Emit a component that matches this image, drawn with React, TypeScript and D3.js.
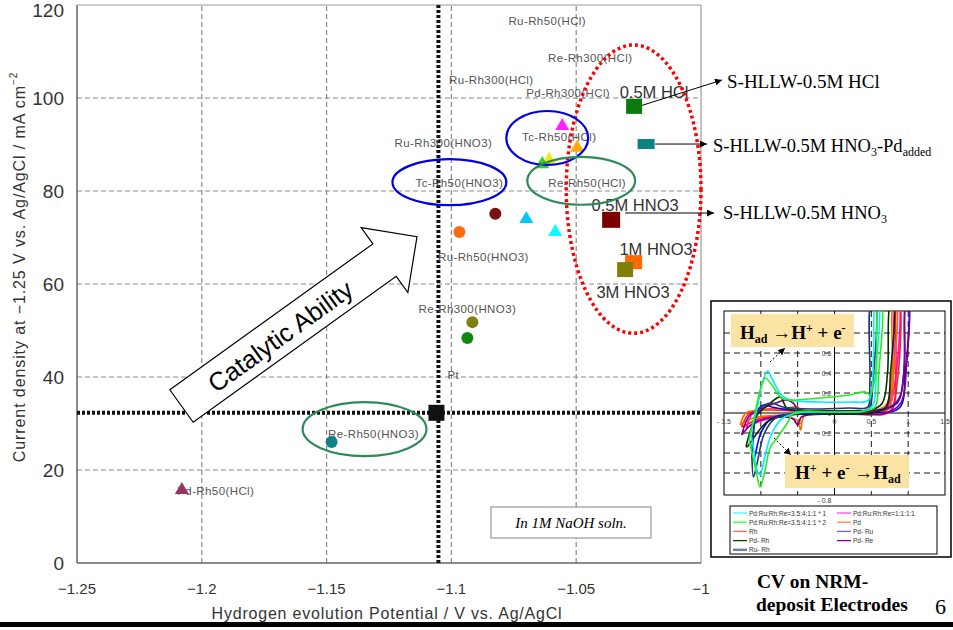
import React from 'react';
import * as d3 from 'd3';

// ---------- main chart data ----------
const xTicks = [-1.25, -1.2, -1.15, -1.1, -1.05, -1];
const xTickLabels = ['−1.25', '−1.2', '−1.15', '−1.1', '−1.05', '−1'];
const yTicks = [0, 20, 40, 60, 80, 100, 120];
const yGrid = [20, 40, 60, 80, 100];
const xGrid = [-1.2, -1.15, -1.1, -1.05];

const markerNames = [
  'S-HLLW-0.5M HCl', 'S-HLLW-0.5M HNO3-Pd', 'S-HLLW-0.5M HNO3', 'S-HLLW-1M HNO3', 'S-HLLW-3M HNO3',
  'Pd-Rh300(HCl)', 'Tc-Rh50(HCl)', 'Ru-Rh300(HCl)', 'Ru-Rh50(HCl)', 'Tc-Rh50(HNO3)', 'Re-Rh50(HCl)',
  'Re-Rh300(HCl)', 'Ru-Rh50(HNO3)', 'Re-Rh300(HNO3)', 'Ru-Rh300(HNO3)', 'Pt', 'Re-Rh50(HNO3)', 'Pd-Rh50(HCl)',
];
const markerPotential = [
  -1.0268, -1.022, -1.036, -1.027, -1.0304,
  -1.0556, -1.0496, -1.0608, -1.0636, -1.07, -1.0584,
  -1.0824, -1.0968, -1.0916, -1.0936, -1.106, -1.148, -1.208,
];
const markerCurrent = [
  98.2, 90.1, 73.8, 64.7, 63.1,
  94.2, 89.5, 86.9, 86.0, 74.2, 71.4,
  75.1, 71.2, 51.8, 48.4, 32.3, 26.0, 15.9,
];
const markerShape = [
  'sq', 'sq', 'sq', 'sq', 'sq',
  'tri', 'tri', 'tri', 'tri', 'tri', 'tri',
  'cir', 'cir', 'cir', 'cir', 'sq', 'cir', 'tri',
];
const markerColor = [
  '#0a7a0a', '#0b8383', '#7a0000', '#ff6a00', '#7f7f0a',
  '#ff22ff', '#ffaa00', '#e8ee10', '#33cc33', '#00c8ff', '#00ffff',
  '#7a1010', '#ff6a10', '#808010', '#118811', '#111111', '#0b8383', '#993366',
];
const markerW = [16, 17, 18, 17, 16, 13, 13, 13, 13, 13, 13, 12, 12, 12, 12, 16, 12, 13];
const markerH = [15, 10, 16, 14, 15, 12, 12, 12, 12, 12, 12, 12, 12, 12, 12, 16, 12, 12];

const smallLabels = [
  'Ru-Rh50(HCl)', 'Re-Rh300(HCl)', 'Ru-Rh300(HCl)', 'Pd-Rh300(HCl)', 'Tc-Rh50(HCl)', 'Ru-Rh300(HNO3)',
  'Tc-Rh50(HNO3)', 'Re-Rh50(HCl)', 'Ru-Rh50(HNO3)', 'Re-Rh300(HNO3)', 'Pt', 'Re-Rh50(HNO3)', 'Pd-Rh50(HCl)',
];
const smallLabelX = [-1.0616, -1.0444, -1.084, -1.0532, -1.0568, -1.1032, -1.0968, -1.0456, -1.0872, -1.0936, -1.0992, -1.1312, -1.1944];
const smallLabelY = [116.6, 108.6, 103.9, 101.1, 91.6, 90.3, 81.7, 81.7, 65.8, 54.6, 40.4, 27.7, 15.5];

const bigLabels = ['0.5M HCl', '0.5M HNO3', '1M HNO3', '3M HNO3'];
const bigLabelX = [-1.0188, -1.0264, -1.018, -1.0272];
const bigLabelY = [101.3, 77.0, 67.5, 58.3];

// ellipse annotations: centre (V, mA/cm2), radii (V, mA/cm2)
const ellCx = [-1.027, -1.0616, -1.1008, -1.048, -1.1348];
const ellCy = [80.4, 91.4, 81.9, 82.2, 28.8];
const ellRx = [0.027, 0.0164, 0.0228, 0.0216, 0.0248];
const ellRy = [31.0, 5.8, 4.95, 5.16, 5.8];
const ellKind = ['red', 'blue', 'blue', 'green', 'green'];

const ptPotential = -1.1052;
const ptCurrent = 32.3;

// ---------- inset CV data (V, mA) ----------
const cvCyan = [[-1.14,-0.2],[-1.05,0.05],[-0.98,0.3],[-0.91,0.42],[-0.84,0.33],[-0.72,0.18],[-0.6,0.13],[-0.2,0.11],[0.2,0.11],[0.45,0.12],[0.5,0.2],[0.53,0.6],[0.56,1.1],[0.6,1.1],[0.57,0.5],[0.52,0.08],[0.4,0.02],[0,0.01],[-0.5,0.0],[-0.7,-0.05],[-0.85,-0.2],[-0.95,-0.45],[-1.01,-0.62],[-1.06,-0.55],[-1.1,-0.35],[-1.14,-0.2]];
const cvLime = [[-1.16,-0.27],[-1.08,0.0],[-1.0,0.25],[-0.94,0.35],[-0.85,0.28],[-0.72,0.15],[-0.6,0.13],[-0.2,0.15],[0.2,0.18],[0.42,0.21],[0.48,0.18],[0.56,0.4],[0.6,1.1],[0.64,1.1],[0.6,0.4],[0.55,0.06],[0.4,0.02],[0,0.01],[-0.55,0.0],[-0.64,-0.1],[-0.78,-0.25],[-0.87,-0.34],[-0.95,-0.6],[-1.01,-0.74],[-1.06,-0.6],[-1.12,-0.4],[-1.16,-0.27]];
const cvRuRh = [[-1.12,-0.45],[-1.05,0.0],[-0.95,0.08],[-0.85,0.1],[-0.7,0.06],[-0.3,0.04],[0.2,0.05],[0.45,0.06],[0.48,0.3],[0.5,1.1],[0.55,1.1],[0.52,0.3],[0.47,0.05],[0.3,0.01],[-0.5,0.0],[-0.8,-0.05],[-0.95,-0.2],[-1.05,-0.5],[-1.1,-0.64],[-1.12,-0.45]];
const cvPdRh = [[-1.2,-0.33],[-1.05,-0.02],[-0.9,0.08],[-0.78,0.15],[-0.73,0.16],[-0.65,0.05],[-0.55,0.03],[0,0.02],[0.5,0.03],[0.65,0.1],[0.72,0.4],[0.76,1.1],[0.8,1.1],[0.76,0.4],[0.7,0.06],[0.5,0.0],[0,-0.01],[-0.6,-0.02],[-0.9,-0.08],[-1.1,-0.25],[-1.19,-0.34],[-1.2,-0.33]];
const cvPdRe = [[-1.26,-0.22],[-1.15,-0.02],[-1.0,0.04],[-0.8,0.1],[-0.66,0.13],[-0.56,0.1],[-0.5,0.04],[-0.3,0.02],[0.3,0.02],[0.7,0.04],[0.88,0.15],[0.95,0.5],[0.97,1.1],[1.0,1.1],[0.98,0.5],[0.9,0.1],[0.7,0.0],[0,-0.01],[-0.45,-0.04],[-0.5,-0.12],[-0.56,-0.06],[-0.8,-0.04],[-1.1,-0.1],[-1.26,-0.22]];
const cvPd = [[-1.28,-0.12],[-1.2,0.0],[-1.0,0.03],[-0.7,0.04],[-0.5,0.06],[-0.46,0.02],[0,0.01],[0.5,0.02],[0.7,0.08],[0.78,0.4],[0.8,1.1],[0.84,1.1],[0.8,0.4],[0.72,0.03],[0.4,-0.01],[-0.4,-0.02],[-0.46,-0.17],[-0.5,-0.08],[-0.7,-0.03],[-1.1,-0.05],[-1.28,-0.12]];
const cvPdRu = [[-1.12,-0.45],[-1.05,0.02],[-0.96,0.08],[-0.85,0.06],[-0.6,0.03],[0,0.02],[0.6,0.03],[0.85,0.1],[0.94,0.4],[0.97,1.1],[1.0,1.1],[0.96,0.4],[0.88,0.05],[0.5,0.0],[-0.5,-0.01],[-0.85,-0.05],[-1.0,-0.2],[-1.1,-0.47],[-1.12,-0.45]];
const cvRh = [[-1.26,-0.14],[-1.15,0.0],[-0.9,0.03],[-0.5,0.02],[0.3,0.01],[0.7,0.03],[0.82,0.3],[0.85,1.1],[0.88,1.1],[0.85,0.3],[0.75,0.01],[0.3,-0.01],[-0.5,-0.01],[-1.0,-0.05],[-1.2,-0.12],[-1.26,-0.14]];
const cvEq = [[-1.2,-0.15],[-1.1,0.0],[-0.9,0.04],[-0.5,0.02],[0.3,0.02],[0.7,0.05],[0.8,0.4],[0.83,1.1],[0.87,1.1],[0.84,0.4],[0.75,0.02],[0.3,0.0],[-0.5,-0.01],[-1.0,-0.08],[-1.2,-0.15]];

const cvCurves = [cvEq, cvRh, cvPd, cvPdRu, cvPdRe, cvPdRh, cvRuRh, cvCyan, cvLime];
const cvColors = ['#ff00ff', '#ff2020', '#ff6600', '#0000ff', '#800080', '#003300', '#1f3a6e', '#00eeff', '#22ee22'];

const legendNames = ['Pd:Ru:Rh:Re=3.5:4:1:1 * 1', 'Pd:Ru:Rh:Re=3.5:4:1:1 * 2', 'Rh', 'Pd- Rh', 'Ru- Rh', 'Pd:Ru:Rh:Re=1:1:1:1', 'Pd', 'Pd- Ru', 'Pd- Re'];
const legendColors = ['#33ffff', '#33ff33', '#ff6666', '#004400', '#7080a0', '#ff44ff', '#ff8833', '#6666ff', '#880088'];

const insetXTicks = [-1.5, -0.5, 0, 0.5, 1, 1.5];
const insetXTickLabels = ['- 1.5', '-.5', '0', '0.5', '1', '1.5'];
const insetYTicks = [0.6, 0.4, 0.2, 0, -0.2, -0.8];
const insetYTickLabels = ['0.6', '0.4', '0.2', '0', '- 0.2', '- 0.8'];
const insetXGrid = [-1, -0.5, 0.5, 1];
const insetYGrid = [0.8, 0.6, 0.4, 0.2, -0.2, -0.4, -0.6];

export default function App() {
  const W = 953, H = 630;
  const x = d3.scaleLinear().domain([-1.25, -1.0]).range([77, 701]);
  const y = d3.scaleLinear().domain([0, 120]).range([563, 5]);
  const pxV = (v: number) => Math.abs(x(v) - x(0));
  const pxI = (v: number) => Math.abs(y(v) - y(0));

  const xi = d3.scaleLinear().domain([-1.5, 1.5]).range([724, 945]);
  const yi = d3.scaleLinear().domain([-0.8, 1.0]).range([493, 313]);
  const cvLine = d3.line<number[]>().x(d => xi(d[0])).y(d => yi(d[1])).curve(d3.curveCatmullRom.alpha(0.5));

  const sans = 'Liberation Sans, Arial, sans-serif';
  const serif = 'Liberation Serif, Times New Roman, serif';
  const ellColor: Record<string, string> = { red: '#ff0000', blue: '#0000e6', green: '#2e8b57' };

  const tri = d3.symbol().type(d3.symbolTriangle);

  return (
    <svg width={W} height={H} style={{ position: 'absolute', left: 0, top: 0, background: '#fff' }} xmlns="http://www.w3.org/2000/svg">
      <defs>
        <marker id="ah" viewBox="0 0 10 10" refX="10" refY="5" markerWidth="7" markerHeight="7" orient="auto">
          <path d="M0,0 L10,5 L0,10 z" fill="#000" />
        </marker>
        <clipPath id="inclip"><rect x={724} y={yi(1.02)} width={221} height={yi(-0.82) - yi(1.02)} /></clipPath>
      </defs>
      <rect x={0} y={0} width={W} height={H} fill="#fff" />

      {/* grid */}
      {yGrid.map(v => <line key={'yg' + v} x1={x(-1.25)} x2={x(-1)} y1={y(v)} y2={y(v)} stroke="#8c8c8c" strokeWidth={1.2} strokeDasharray="5,3" />)}
      {xGrid.map(v => <line key={'xg' + v} x1={x(v)} x2={x(v)} y1={y(0)} y2={y(120)} stroke="#8c8c8c" strokeWidth={1.2} strokeDasharray="5,3" />)}

      {/* frame */}
      <line x1={x(-1.25)} x2={x(-1)} y1={y(120)} y2={y(120)} stroke="#999" strokeWidth={1.2} />
      <line x1={x(-1)} x2={x(-1)} y1={y(120)} y2={y(0)} stroke="#999" strokeWidth={1.2} />
      <line x1={x(-1.25)} x2={x(-1.25)} y1={y(120)} y2={y(0)} stroke="#666" strokeWidth={1.5} />
      <line x1={x(-1.25)} x2={x(-1)} y1={y(0)} y2={y(0)} stroke="#666" strokeWidth={1.5} />

      {/* Pt reference dotted lines */}
      <line x1={x(ptPotential)} x2={x(ptPotential)} y1={y(0)} y2={y(120)} stroke="#111" strokeWidth={4} strokeDasharray="3,2" />
      <line x1={x(-1.25)} x2={x(-1)} y1={y(ptCurrent)} y2={y(ptCurrent)} stroke="#111" strokeWidth={4} strokeDasharray="3,2" />

      {/* tick labels */}
      {yTicks.map(v => <text key={'yt' + v} x={64} y={Math.max(y(v), 10)} textAnchor="end" dominantBaseline="central" fontFamily={sans} fontSize={19} fill="#333">{v}</text>)}
      {xTicks.map((v, i) => <text key={'xt' + v} x={x(v)} y={588} textAnchor="middle" dominantBaseline="central" fontFamily={sans} fontSize={15} fill="#333">{xTickLabels[i]}</text>)}

      {/* axis titles */}
      <text x={387} y={613} textAnchor="middle" dominantBaseline="central" fontFamily={sans} fontSize={16} letterSpacing={0.8} fill="#333">Hydrogen evolution Potential / V vs. Ag/AgCl</text>
      <text transform="translate(19,267) rotate(-90)" textAnchor="middle" dominantBaseline="central" fontFamily={sans} fontSize={16} letterSpacing={0.9} fill="#333">
        Current density at −1.25 V vs. Ag/AgCl / mA cm<tspan dy={-6} fontSize={10}>−2</tspan>
      </text>

      {/* Catalytic ability arrow */}
      <g transform="translate(181.5,406) rotate(-35.7)">
        <polygon points="0,-20 250,-20 250,-40 290,0 250,40 250,20 0,20" fill="#fff" stroke="#000" strokeWidth={1.2} />
        <text x={121} y={1} textAnchor="middle" dominantBaseline="central" fontFamily={sans} fontSize={25.5} fill="#000">Catalytic Ability</text>
      </g>

      {/* small data labels */}
      {smallLabels.map((t, i) => <text key={'sl' + i} x={x(smallLabelX[i])} y={y(smallLabelY[i])} textAnchor="middle" dominantBaseline="central" fontFamily={sans} fontSize={11.5} letterSpacing={0.4} fill="#555">{t}</text>)}

      {/* markers */}
      {markerNames.map((n, i) => {
        const cx = x(markerPotential[i]), cy = y(markerCurrent[i]);
        const c = markerColor[i];
        if (markerShape[i] === 'sq') return <rect key={'m' + i} x={cx - markerW[i] / 2} y={cy - markerH[i] / 2} width={markerW[i]} height={markerH[i]} fill={c} />;
        if (markerShape[i] === 'cir') return <circle key={'m' + i} cx={cx} cy={cy} r={markerW[i] / 2} fill={c} />;
        return <path key={'m' + i} transform={`translate(${cx},${cy + 1})`} d={tri.size(markerW[i] * markerW[i] * 0.5)() || ''} fill={c} />;
      })}

      {/* big labels */}
      {bigLabels.map((t, i) => <text key={'bl' + i} x={x(bigLabelX[i])} y={y(bigLabelY[i])} textAnchor="middle" dominantBaseline="central" fontFamily={sans} fontSize={16.5} fill="#333">{t}</text>)}

      {/* ellipses */}
      {ellCx.map((v, i) => (
        <ellipse key={'el' + i} cx={x(v)} cy={y(ellCy[i])} rx={pxV(ellRx[i])} ry={pxI(ellRy[i])} fill="none"
          stroke={ellColor[ellKind[i]]} strokeWidth={ellKind[i] === 'red' ? 3.5 : 2.2}
          strokeDasharray={ellKind[i] === 'red' ? '3,3' : undefined} />
      ))}

      {/* right annotation arrows */}
      <line x1={x(markerPotential[0]) + 8} y1={y(markerCurrent[0]) - 1} x2={722} y2={80} stroke="#000" strokeWidth={1} markerEnd="url(#ah)" />
      <line x1={x(markerPotential[1]) + 9} y1={y(markerCurrent[1])} x2={707} y2={y(markerCurrent[1])} stroke="#000" strokeWidth={1} markerEnd="url(#ah)" />
      <line x1={x(markerPotential[2]) + 14} y1={213} x2={714} y2={213} stroke="#000" strokeWidth={1} markerEnd="url(#ah)" />
      <text x={727} y={88} fontFamily={serif} fontSize={19} fill="#000">S-HLLW-0.5M HCl</text>
      <text x={713} y={152} fontFamily={serif} fontSize={18.5} fill="#000">S-HLLW-0.5M HNO<tspan dy={4} fontSize={12}>3</tspan><tspan dy={-4}>-Pd</tspan><tspan dy={4} fontSize={12}>added</tspan></text>
      <text x={723} y={219} fontFamily={serif} fontSize={18.5} fill="#000">S-HLLW-0.5M HNO<tspan dy={4} fontSize={12}>3</tspan></text>

      {/* NaOH box */}
      <rect x={491} y={507} width={160} height={31} fill="#fff" stroke="#888" strokeWidth={1} />
      <text x={571} y={523} textAnchor="middle" dominantBaseline="central" fontFamily={serif} fontStyle="italic" fontSize={15} fill="#000">In 1M NaOH soln.</text>

      {/* ---------- inset ---------- */}
      <rect x={711} y={301} width={240} height={256} fill="#fff" stroke="#000" strokeWidth={1.5} />
      <rect x={724} y={yi(1.02)} width={221} height={yi(-0.82) - yi(1.02)} fill="#fff" stroke="#000" strokeWidth={1} />
      {insetYGrid.map(v => <line key={'iyg' + v} x1={724} x2={945} y1={yi(v)} y2={yi(v)} stroke="#000" strokeWidth={0.9} strokeDasharray="6,4" />)}
      {insetXGrid.map(v => <line key={'ixg' + v} x1={xi(v)} x2={xi(v)} y1={yi(1.02)} y2={yi(-0.82)} stroke="#000" strokeWidth={0.9} strokeDasharray="6,4" />)}
      <line x1={724} x2={945} y1={yi(0)} y2={yi(0)} stroke="#000" strokeWidth={1} />
      <line x1={xi(0)} x2={xi(0)} y1={yi(1.02)} y2={yi(-0.82)} stroke="#000" strokeWidth={1} />
      {insetXTicks.map((v, i) => <text key={'ixt' + v} x={xi(v)} y={yi(0) + 11} textAnchor="middle" fontFamily={sans} fontSize={7} fill="#444">{insetXTickLabels[i]}</text>)}
      {insetYTicks.map((v, i) => <text key={'iyt' + v} x={xi(0) - 3} y={v === -0.8 ? yi(-0.82) + 8 : yi(v) + 3} textAnchor="end" fontFamily={sans} fontSize={7} fill="#444">{insetYTickLabels[i]}</text>)}
      <g clipPath="url(#inclip)">
        {cvCurves.map((c, i) => <path key={'cv' + i} d={cvLine(c) || ''} fill="none" stroke={cvColors[i]} strokeWidth={1.6} />)}
      </g>
      {/* reaction boxes */}
      <rect x={731} y={314} width={123} height={33} fill="#fbe3a4" />
      <text x={740} y={339} fontFamily={serif} fontWeight="bold" fontSize={19} fill="#000">H<tspan dy={4} fontSize={12}>ad</tspan><tspan dy={-4}> →H</tspan><tspan dy={-7} fontSize={12}>+</tspan><tspan dy={7}> + e</tspan><tspan dy={-7} fontSize={12}>-</tspan></text>
      <rect x={785} y={455} width={124} height={33} fill="#fbe3a4" />
      <text x={795} y={479} fontFamily={serif} fontWeight="bold" fontSize={19} fill="#000">H<tspan dy={-7} fontSize={12}>+</tspan><tspan dy={7}> + e</tspan><tspan dy={-7} fontSize={12}>-</tspan><tspan dy={7}> →H</tspan><tspan dy={4} fontSize={12}>ad</tspan></text>
      <line x1={770} y1={362} x2={785} y2={348} stroke="#000" strokeWidth={1} strokeDasharray="2,2" markerEnd="url(#ah)" />
      <line x1={774} y1={438} x2={791} y2={455} stroke="#000" strokeWidth={1} strokeDasharray="2,2" markerEnd="url(#ah)" />

      {/* inset legend */}
      <rect x={730} y={506} width={207} height={48} fill="#fff" stroke="#000" strokeWidth={1} />
      {legendNames.map((n, i) => {
        const col = i < 5 ? 0 : 1;
        const row = i < 5 ? i : i - 5;
        const lx = col === 0 ? 733 : 837;
        const ly = 513 + row * 9.2;
        return (
          <g key={'lg' + i}>
            <line x1={lx} x2={lx + 14} y1={ly} y2={ly} stroke={legendColors[i]} strokeWidth={n === 'Ru- Rh' ? 2.5 : 1.3} />
            <text x={lx + 16} y={ly} dominantBaseline="central" fontFamily={sans} fontSize={6.5} fill="#333">{n}</text>
          </g>
        );
      })}

      <text x={757} y={588} fontFamily={serif} fontWeight="bold" fontSize={19.5} fill="#000">CV on NRM-</text>
      <text x={756} y={611} fontFamily={serif} fontWeight="bold" fontSize={19.5} fill="#000">deposit Electrodes</text>
      <text x={935} y={614} fontFamily={serif} fontSize={22} fill="#000">6</text>

      {/* bottom rule */}
      <rect x={0} y={622} width={W} height={5} fill="#000" />
    </svg>
  );
}
